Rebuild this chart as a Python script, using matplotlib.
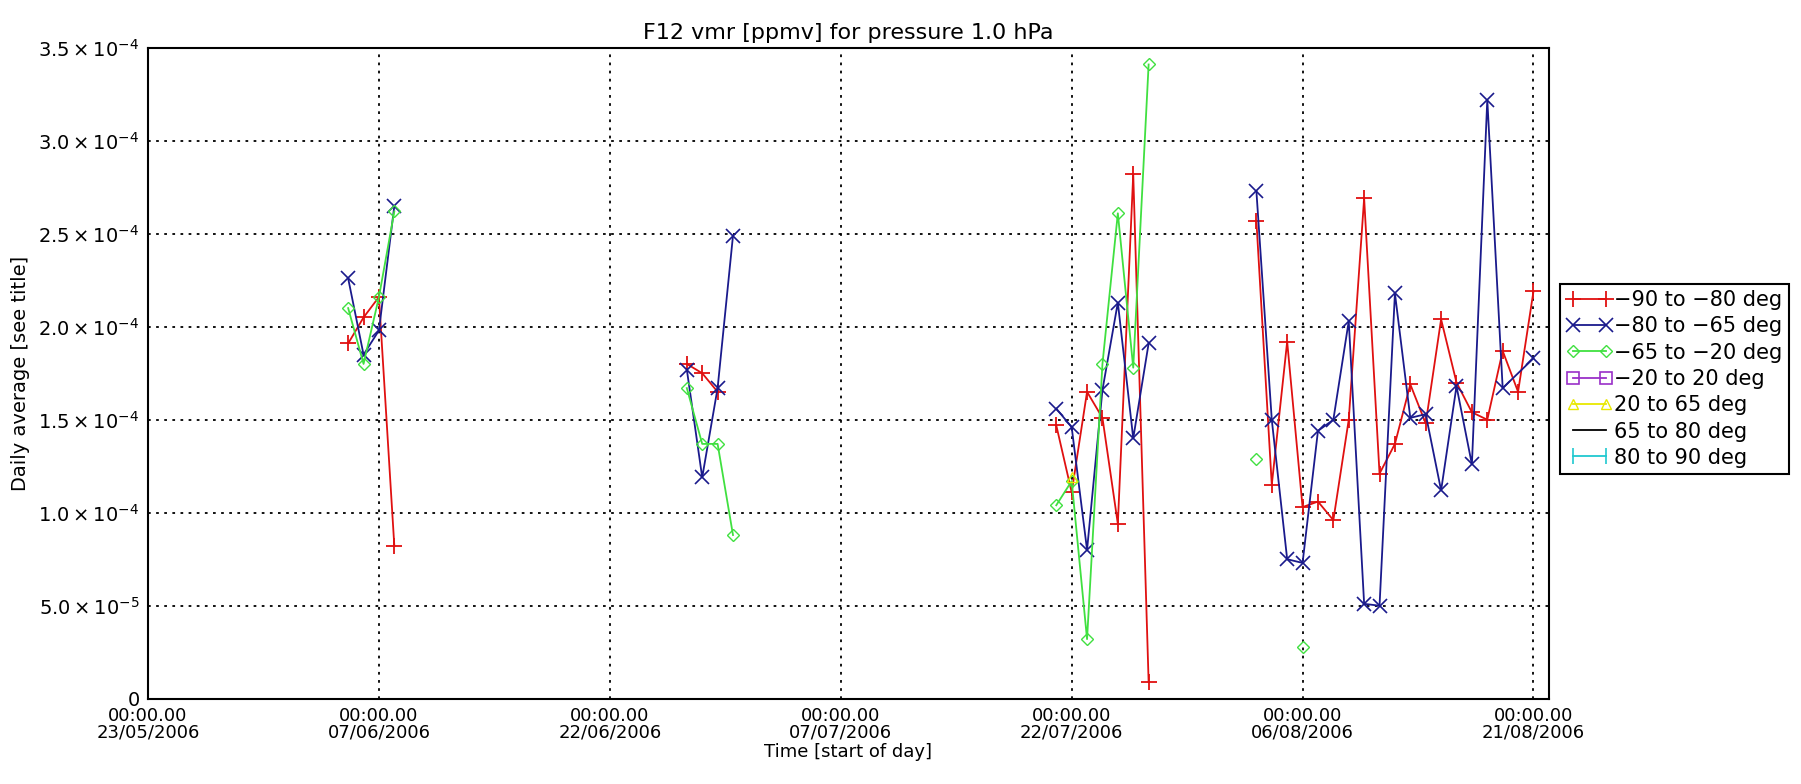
import datetime as dt

import numpy as np
import matplotlib
matplotlib.use('Agg')
import matplotlib.pyplot as plt

plt.rcParams['font.family'] = ['DejaVu Sans']
plt.rcParams['mathtext.fontset'] = 'dejavusans'

START = dt.datetime(2006, 5, 23)
END = dt.datetime(2006, 8, 22)
SCALE = 1e-4

# days since 23/05/2006, values in units of 1e-4 ppmv
red_days = [13, 14, 15, 16, 35, 36, 37, 59, 60, 61, 62, 63, 64, 65,
            72, 73, 74, 75, 76, 77, 78, 79, 80, 81, 82, 83, 84, 85, 86, 87, 88, 89, 90]
red_vals = [1.91, 2.05, 2.16, 0.82, 1.80, 1.75, 1.65,
            1.47, 1.11, 1.65, 1.51, 0.94, 2.82, 0.09,
            2.57, 1.15, 1.92, 1.03, 1.06, 0.96, 1.50, 2.69, 1.21, 1.37,
            1.69, 1.48, 2.04, 1.70, 1.54, 1.50, 1.87, 1.65, 2.19]

blue_days = [13, 14, 15, 16, 35, 36, 37, 38, 59, 60, 61, 62, 63, 64, 65,
             72, 73, 74, 75, 76, 77, 78, 79, 80, 81, 82, 83, 84, 85, 86, 87, 88, 90]
blue_vals = [2.26, 1.85, 1.98, 2.65, 1.77, 1.19, 1.67, 2.49,
             1.56, 1.46, 0.80, 1.66, 2.13, 1.40, 1.91,
             2.73, 1.50, 0.75, 0.73, 1.44, 1.50, 2.03, 0.51, 0.50, 2.18,
             1.51, 1.53, 1.12, 1.68, 1.26, 3.22, 1.67, 1.83]

green_days = [13, 14, 15, 16, 35, 36, 37, 38, 59, 60, 61, 62, 63, 64, 65, 72, 75]
green_vals = [2.10, 1.80, 2.16, 2.62, 1.67, 1.37, 1.37, 0.88,
              1.04, 1.17, 0.32, 1.80, 2.61, 1.78, 3.41, 1.29, 0.28]

yellow_days = [60]
yellow_vals = [1.19]

labels = ['\u221290 to \u221280 deg', '\u221280 to \u221265 deg', '\u221265 to \u221220 deg',
          '\u221220 to 20 deg', '20 to 65 deg', '65 to 80 deg', '80 to 90 deg']

ytick_vals = [0, 0.5, 1.0, 1.5, 2.0, 2.5, 3.0, 3.5]
ytick_labels = ['0', r'$5.0\times10^{-5}$', r'$1.0\times10^{-4}$', r'$1.5\times10^{-4}$',
                r'$2.0\times10^{-4}$', r'$2.5\times10^{-4}$', r'$3.0\times10^{-4}$',
                r'$3.5\times10^{-4}$']


def with_gaps(days, vals, maxgap=2):
    # break the line where days are missing for more than maxgap
    xs, ys = [], []
    for i, (d, v) in enumerate(zip(days, vals)):
        if i > 0 and d - days[i - 1] > maxgap:
            xs.append(START + dt.timedelta(days=d - 0.5))
            ys.append(np.nan)
        xs.append(START + dt.timedelta(days=d))
        ys.append(v * SCALE)
    return xs, ys


fig = plt.figure(figsize=(18.01, 7.84), dpi=100)
ax = fig.add_axes([0.0822, 0.1088, 0.7778, 0.8303])

styles = [
    dict(color='#e01010', marker='+', ms=11, mew=1.3),
    dict(color='#1a1a8c', marker='x', ms=10, mew=1.2),
    dict(color='#40e040', marker='D', ms=6, mfc='none', mew=1.0),
    dict(color='#9a30c8', marker='s', ms=8, mfc='none', mew=1.2),
    dict(color='#e8e800', marker='^', ms=7, mfc='none', mew=1.0),
    dict(color='black', marker=None),
    dict(color='#20c8d0', marker='|', ms=12, mew=1.2),
]

series = [(red_days, red_vals), (blue_days, blue_vals), (green_days, green_vals),
          ([], []), (yellow_days, yellow_vals), ([], []), ([], [])]

for (d, v), st, lab in zip(series, styles, labels):
    xs, ys = with_gaps(d, v)
    ax.plot(xs, ys, lw=1.3, label=lab, **st)

ax.set_xlim(START, END)
ax.set_ylim(0, 3.5e-4)

xticks = [START + dt.timedelta(days=15 * i) for i in range(7)]
ax.set_xticks(xticks)
ax.set_xticklabels([t.strftime('00:00.00\n%d/%m/%Y') for t in xticks], fontsize=13,
                   linespacing=0.9)
ax.set_yticks([v * SCALE for v in ytick_vals])
ax.set_yticklabels(ytick_labels, fontsize=14)
ax.tick_params(length=0, pad=6)

ax.grid(True, color='black', linestyle=(0, (1.5, 3)), linewidth=1.3)
for sp in ax.spines.values():
    sp.set_linewidth(1.5)

ax.set_title('F12 vmr [ppmv] for pressure 1.0 hPa', fontsize=16, pad=6)
ax.set_xlabel('Time [start of day]', fontsize=13, labelpad=1)
ax.set_ylabel('Daily average [see title]', fontsize=14, labelpad=6)

leg = ax.legend(loc='upper left', bbox_to_anchor=(1560 / 1801, 1 - 284 / 784),
                bbox_transform=fig.transFigure, fontsize=15, numpoints=2,
                handlelength=2.2, handletextpad=0.1, borderpad=0.3,
                labelspacing=0.3, borderaxespad=0, fancybox=False,
                edgecolor='black', framealpha=1)
leg.get_frame().set_linewidth(1.5)

fig.savefig('out.png', dpi=100)
